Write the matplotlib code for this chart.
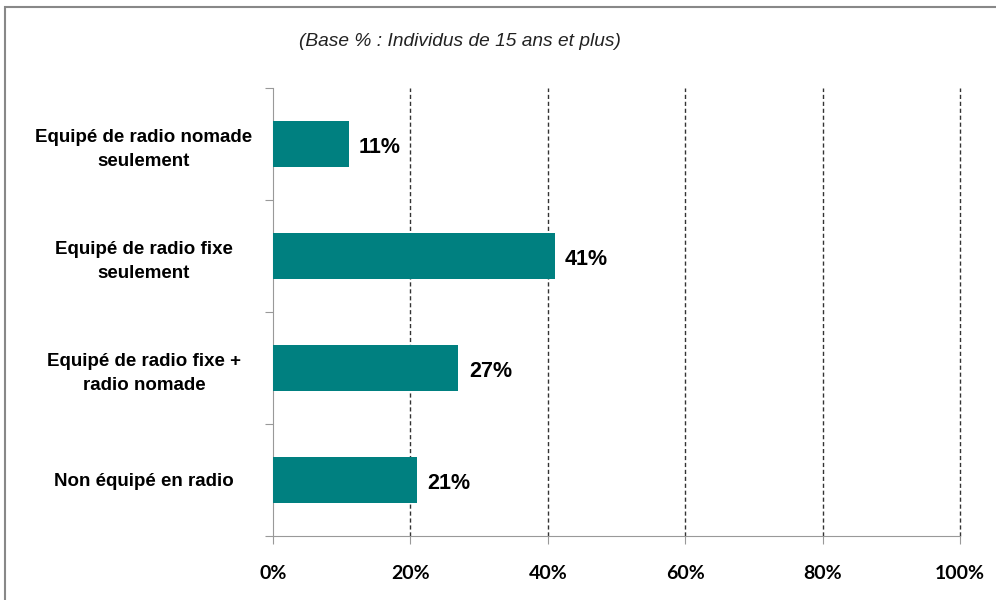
import matplotlib.pyplot as plt
from matplotlib.patches import Rectangle

categories = ["Equipé de radio nomade\nseulement", "Equipé de radio fixe\nseulement",
              "Equipé de radio fixe +\nradio nomade", "Non équipé en radio"]
values = [11, 41, 27, 21]
xticks = [0, 20, 40, 60, 80, 100]
title = "(Base % : Individus de 15 ans et plus)"

fig = plt.figure(figsize=(9.96, 6), dpi=100)
ax = fig.add_axes([273 / 996, 64 / 600, 687 / 996, 448 / 600])

pos = list(range(len(categories)))
ax.barh(pos, values, height=0.41, color="#008080", zorder=3)
ax.set_ylim(len(categories) - 0.5, -0.5)
ax.set_xlim(0, 100)

for p, v in zip(pos, values):
    ax.text(v + 1.5, p + 0.03, f"{v}%", va="center", ha="left", fontsize=15.5,
            fontweight="bold", family="Liberation Sans")

# quadrillage pointillé
for x in xticks[1:]:
    ax.axvline(x, color="#333333", linestyle=(0, (3, 2)), linewidth=1, zorder=1, clip_on=False)

ax.set_xticks(xticks)
ax.set_xticklabels([f"{x}%" for x in xticks], fontsize=14, fontweight="bold", family="Lato")
ax.tick_params(axis="x", length=6, color="#999999", pad=15)
ax.set_yticks([p - 0.5 for p in pos] + [len(pos) - 0.5])
ax.set_yticklabels([])
ax.set_yticks(pos, minor=True)
ax.set_yticklabels(categories, minor=True, fontsize=13.5, fontweight="bold",
                   family="Liberation Sans", ha="center", linespacing=1.55)
ax.tick_params(axis="y", which="minor", length=0, pad=93)
ax.tick_params(axis="y", which="major", length=6, color="#999999")

for s in ["top", "right"]:
    ax.spines[s].set_visible(False)
for s in ["left", "bottom"]:
    ax.spines[s].set_color("#999999")

fig.text(460 / 996, 1 - 42 / 600, title, ha="center", va="center", fontsize=13.8,
         style="italic", family="Liberation Sans", color="#222222")

# cadre autour du graphique
fig.patches.append(Rectangle((5 / 996, -0.05), 1.1, 1 - 7 / 600 + 0.05, transform=fig.transFigure,
                             fill=False, edgecolor="#888888", linewidth=1.5))

fig.savefig("out.png", dpi=100)
